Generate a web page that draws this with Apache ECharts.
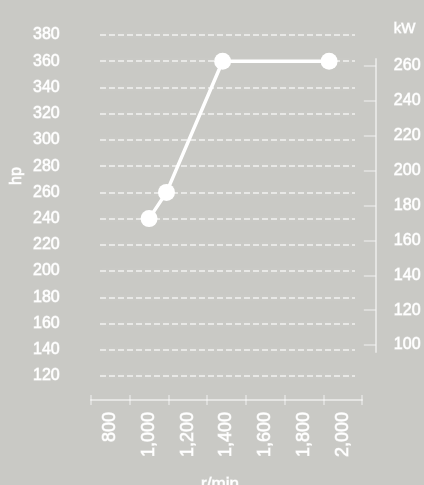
<!DOCTYPE html>
<html>
<head>
<meta charset="utf-8">
<script src="https://cdn.jsdelivr.net/npm/echarts@6/dist/echarts.min.js"></script>
<style>
  html, body { margin: 0; padding: 0; background: #c9c9c5; }
  #chart { width: 424px; height: 485px; }
</style>
</head>
<body>
<div id="chart"></div>
<script>
// engine curve: rpm vs horsepower
const rpmValues = [1000, 1090, 1380, 1930];
const hpValues = [240, 260, 360, 360];

// axis labels / ticks
const rpmLabels = [800, 1000, 1200, 1400, 1600, 1800, 2000];
const rpmTicks = [700, 900, 1100, 1300, 1500, 1700, 1900, 2100];
const kwLabels = [100, 120, 140, 160, 180, 200, 220, 240, 260];

const WHITE = "#ffffff";
const FONT = "Liberation Sans";
const axisGrey = "rgba(255,255,255,0.5)";
// slight outline so the labels look a bit heavier, like the original
const heavy = { textBorderColor: "rgba(255,255,255,0.7)", textBorderWidth: 0.9 };

const chart = echarts.init(document.getElementById("chart"), null, { renderer: "canvas" });

chart.setOption({
  backgroundColor: "#c9c9c5",
  animation: false,
  textStyle: { fontFamily: FONT },
  grid: [
    { left: 100, right: 69, top: 35, bottom: 109 }, // hp axis + gridlines
    { left: 91, right: 62, top: 35, bottom: 109 },  // data + rpm axis
    { left: 100, right: 45, top: 59, bottom: 133 }  // kW axis
  ],
  xAxis: [
    { gridIndex: 0, type: "value", min: 700, max: 2100, show: false },
    {
      gridIndex: 1,
      type: "value",
      position: "bottom",
      min: 700,
      max: 2100,
      offset: 24,
      axisLine: { onZero: false, lineStyle: { color: axisGrey, width: 2 } },
      axisTick: { customValues: rpmTicks, length: 5, lineStyle: { color: axisGrey, width: 1.5 } },
      axisLabel: Object.assign({
        customValues: rpmLabels,
        rotate: 90,
        margin: 12,
        color: WHITE,
        fontSize: 18,
        fontFamily: FONT,
        formatter: (v) => v.toLocaleString("en-US")
      }, heavy),
      splitLine: { show: false }
    },
    {
      gridIndex: 1,
      type: "value",
      position: "bottom",
      min: 700,
      max: 2100,
      offset: 24,
      axisLine: { show: false, onZero: false },
      axisTick: { customValues: rpmTicks, inside: true, length: 5, lineStyle: { color: axisGrey, width: 1.5 } },
      axisLabel: { show: false },
      splitLine: { show: false }
    },
    { gridIndex: 2, type: "value", min: 0, max: 1, show: false }
  ],
  yAxis: [
    {
      gridIndex: 0,
      type: "value",
      min: 120,
      max: 380,
      interval: 20,
      axisLine: { show: false },
      axisTick: { show: false },
      axisLabel: Object.assign({ align: "left", margin: 67, color: WHITE, fontSize: 16, fontFamily: FONT }, heavy),
      splitLine: {
        lineStyle: {
          color: "rgba(255,255,255,0.75)",
          width: 1.5,
          type: [6, 3],
          shadowColor: "rgba(255,255,255,0.3)",
          shadowBlur: 6
        }
      }
    },
    { gridIndex: 1, type: "value", min: 120, max: 380, show: false },
    {
      gridIndex: 2,
      type: "value",
      position: "right",
      min: 96,
      max: 264,
      name: "kW",
      nameLocation: "end",
      nameGap: 23,
      nameTextStyle: Object.assign({ color: WHITE, fontSize: 15, fontFamily: FONT, align: "left", padding: [0, 0, 0, 18] }, heavy),
      axisLine: { show: true, onZero: false, lineStyle: { color: axisGrey, width: 2 } },
      axisTick: { customValues: kwLabels, inside: true, length: 12, lineStyle: { color: axisGrey, width: 1.5 } },
      axisLabel: Object.assign({ customValues: kwLabels, margin: 18, color: WHITE, fontSize: 16, fontFamily: FONT }, heavy),
      splitLine: { show: false }
    }
  ],
  graphic: [
    {
      type: "text",
      x: 17,
      y: 176,
      rotation: Math.PI / 2,
      style: { text: "hp", fill: WHITE, font: "16px " + FONT, align: "center", verticalAlign: "middle", stroke: "rgba(255,255,255,0.7)", lineWidth: 0.9 }
    },
    {
      type: "text",
      x: 220,
      y: 484,
      style: { text: "r/min", fill: WHITE, font: "17px " + FONT, align: "center", verticalAlign: "middle", stroke: "rgba(255,255,255,0.7)", lineWidth: 0.9 }
    }
  ],
  series: [
    {
      type: "line",
      xAxisIndex: 1,
      yAxisIndex: 1,
      data: rpmValues.map((r, i) => [r, hpValues[i]]),
      symbol: "circle",
      symbolSize: 17,
      lineStyle: { color: WHITE, width: 3.5 },
      itemStyle: { color: WHITE },
      z: 5
    }
  ]
});
</script>
</body>
</html>
